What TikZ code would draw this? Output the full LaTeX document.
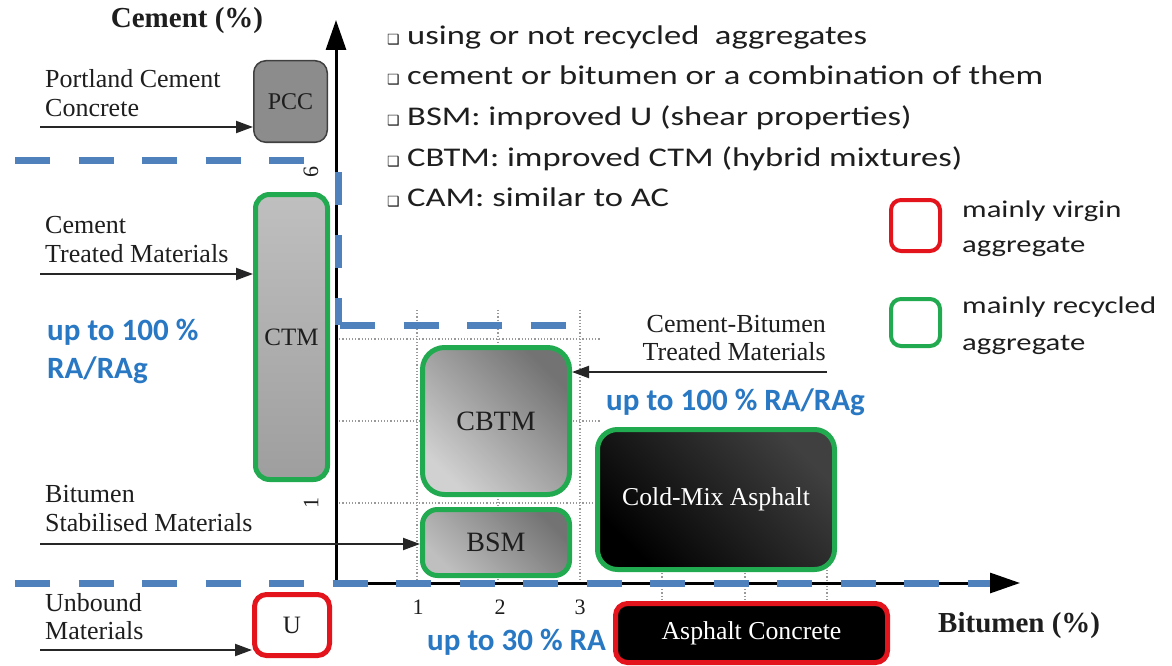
\documentclass[tikz,border=0pt]{standalone}
\usepackage{fontspec}
\setmainfont{Liberation Serif}
\newfontfamily\calib[FakeStretch=1.28]{Carlito}
\newfontfamily\calibblue{Carlito}
\newfontfamily\dejavu{DejaVu Sans}
\usetikzlibrary{arrows.meta}
\definecolor{dashblue}{RGB}{79,129,189}
\definecolor{textblue}{RGB}{40,120,195}
\definecolor{bgreen}{RGB}{34,170,80}
\definecolor{bred}{RGB}{228,20,28}
\definecolor{txt}{RGB}{30,30,30}
\tikzset{
  gridline/.style={draw=black!40, line width=1.2pt, dotted},
  axisline/.style={draw=black, line width=3pt, -{Triangle[length=30pt,width=20pt]}},
  blued/.style={draw=dashblue, line width=7pt, dash pattern=on 35pt off 28.5pt},
  lblarrow/.style={draw=black!85, line width=2pt, -{Triangle[length=17pt,width=12pt]}},
  boxbase/.style={rounded corners=13pt, inner sep=0pt, text=txt, font=\fontsize{25}{27}\selectfont},
  greenbox/.style={boxbase, draw=bgreen, line width=5pt},
  redbox/.style={boxbase, draw=bred, line width=5pt},
  lbl/.style={anchor=base west, inner sep=0pt, text=txt, font=\fontsize{26}{29}\selectfont},
  lblr/.style={lbl, anchor=base east},
  bluet/.style={anchor=base west, inner sep=0pt, text=textblue, font=\calibblue\bfseries\fontsize{31}{35}\selectfont},
  bul/.style={anchor=base west, inner sep=0pt, text=txt, font=\calib\fontsize{27}{30}\selectfont},
  bulmark/.style={anchor=base west, inner sep=0pt, text=txt, font=\dejavu\fontsize{14}{16}\selectfont},
  leg/.style={anchor=base west, inner sep=0pt, text=txt, font=\calib\fontsize{24}{28}\selectfont},
  tick/.style={inner sep=0pt, text=txt, font=\fontsize{22}{24}\selectfont},
  axtitle/.style={inner sep=0pt, text=txt, font=\bfseries\fontsize{29}{31}\selectfont}
}
\begin{document}
\begin{tikzpicture}[x=1pt,y=-1pt]
\useasboundingbox (0,0) rectangle (1172,666);
\fill[white] (0,0) rectangle (1172,666);

% dotted grid
\draw[gridline] (417,310) -- (417,583);
\draw[gridline] (498,310) -- (498,583);
\draw[gridline] (580,310) -- (580,583);
\draw[gridline] (336,339) -- (600,339);
\draw[gridline] (336,421) -- (600,421);
\draw[gridline] (336,503) -- (600,503);
\draw[gridline] (662,570) -- (662,600);
\draw[gridline] (745,570) -- (745,600);
\draw[gridline] (827,570) -- (827,600);

% axes
\coordinate (O) at (336,583);
\coordinate (ytip) at (336,20);
\coordinate (xtip) at (1020,583);
\draw[axisline] (O) -- (ytip);
\draw[axisline] (O) -- (xtip);

% blue dashed boundaries
\draw[blued] (15,160) -- (306,160);
\draw[blued, dash pattern=on 33pt off 30pt] (338,172) -- (338,325);
\draw[blued] (340,325) -- (566,325);
\draw[blued] (15,583) -- (990,583);

% tick labels
\node[tick, anchor=base] (t1) at (418,614) {1};
\node[tick, anchor=base] (t2) at (500,614) {2};
\node[tick, anchor=base] (t3) at (580,614) {3};
\node[tick, rotate=90] (c1) at (311,503) {1};
\node[tick, rotate=90] (c6) at (311,172) {6};

% axis titles
\node[axtitle, anchor=base] (ytitle) at (187,28) {Cement (\%)};
\node[axtitle, anchor=base west] (xtitle) at (938,632) {Bitumen (\%)};

% material boxes
\node[boxbase, draw=black!75, line width=1.5pt, fill=black!45, rounded corners=12pt,
      minimum width=73.5pt, minimum height=81.5pt, font=\fontsize{24}{26}\selectfont] (pcc) at (290.5,101.5) {PCC};
\node[greenbox, top color=black!25, bottom color=black!38, rounded corners=14pt,
      minimum width=72pt, minimum height=285pt] (ctm) at (291.5,337) {CTM};
\node[redbox, fill=white, rounded corners=12pt,
      minimum width=75pt, minimum height=61pt] (u) at (292,625) {U};
\node[greenbox, top color=black!55, bottom color=black!18, shading angle=-45, rounded corners=22pt,
      minimum width=147pt, minimum height=147pt, font=\fontsize{28}{30}\selectfont] (cbtm) at (496,421) {CBTM};
\node[greenbox, top color=black!55, bottom color=black!25, shading angle=-45, rounded corners=15pt,
      minimum width=147pt, minimum height=66pt, font=\fontsize{28}{30}\selectfont] (bsm) at (496,542.5) {BSM};
\node[greenbox, top color=black!75, bottom color=black, shading angle=-45, rounded corners=20pt, text=white,
      minimum width=237pt, minimum height=140pt, font=\fontsize{25.7}{28}\selectfont] (cma) at (716,499.5) {Cold-Mix Asphalt};
\node[redbox, fill=black, text=white, rounded corners=12pt,
      minimum width=272pt, minimum height=59pt, font=\fontsize{25.8}{28}\selectfont] (ac) at (751.5,633) {Asphalt Concrete};

% label texts
\node[lbl] (pccl1) at (45,88) {Portland Cement};
\node[lbl] (pccl2) at (45,117) {Concrete};
\node[lbl] (ctml1) at (45,233) {Cement};
\node[lbl] (ctml2) at (45,262) {Treated Materials};
\node[lbl] (bsml1) at (45,502) {Bitumen};
\node[lbl] (bsml2) at (45,531) {Stabilised Materials};
\node[lbl] (ul1) at (45,611) {Unbound};
\node[lbl] (ul2) at (45,639) {Materials};
\node[lblr] (cbl1) at (826,332) {Cement-Bitumen};
\node[lblr] (cbl2) at (826,360) {Treated Materials};

% label arrows
\coordinate (pccS) at (40,127);
\coordinate (ctmS) at (40,274);
\coordinate (bsmS) at (40,544);
\coordinate (uS) at (40,650);
\coordinate (cbS) at (827,372);
\draw[lblarrow] (pccS) -- (pccS -| pcc.west);
\draw[lblarrow] (ctmS) -- (ctmS -| ctm.west);
\draw[lblarrow] (bsmS) -- (bsmS -| bsm.west);
\draw[lblarrow] (uS) -- (uS -| u.west);
\draw[lblarrow] (cbS) -- (cbS -| cbtm.east);

% blue RA texts
\node[bluet] (ra1a) at (47,340) {up to 100 \%};
\node[bluet] (ra1b) at (47,378) {RA/RAg};
\node[bluet] (ra2) at (606,410) {up to 100 \% RA/RAg};
\node[bluet] (ra3) at (427,650) {up to 30 \% RA};

% bullet list
\foreach \i/\yy/\t in {1/45/{using or not recycled\ \ aggregates},
                       2/85/{cement or bitumen or a combination of them},
                       3/125/{BSM: improved U (shear properties)},
                       4/166/{CBTM: improved CTM (hybrid mixtures)},
                       5/206/{CAM: similar to AC}}{
  \node[bulmark] (m\i) at (387,\yy) {❑};
  \node[bul] (b\i) at (407,\yy) {\t};
}

% legend
\node[boxbase, draw=bred, line width=4pt, rounded corners=10pt, minimum width=49pt, minimum height=51pt] (legred) at (915.5,225.5) {};
\node[boxbase, draw=bgreen, line width=4pt, rounded corners=10pt, minimum width=49pt, minimum height=47pt] (leggreen) at (915.5,322.5) {};
\node[leg] (lv1) at (962,217) {mainly virgin};
\node[leg] (lv2) at (962,252) {aggregate};
\node[leg] (lr1) at (962,313) {mainly recycled};
\node[leg] (lr2) at (962,350) {aggregate};
\end{tikzpicture}
\end{document}
